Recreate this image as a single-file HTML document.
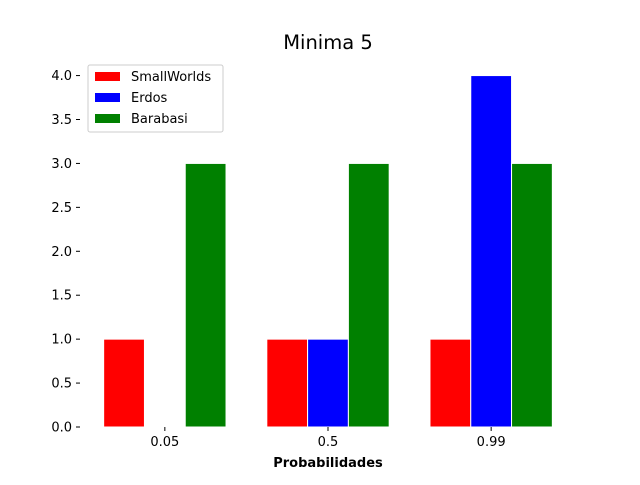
<!DOCTYPE html>
<html><head><meta charset="utf-8"><style>
body{margin:0;background:#fff}
svg text{font-family:"DejaVu Sans","Liberation Sans",sans-serif}
</style></head><body>
<svg id="c" width="640" height="480" xmlns="http://www.w3.org/2000/svg">
<rect width="640" height="480" fill="#fff"/>
<text x="328" y="49" font-size="19.5" text-anchor="middle">Minima 5</text>
<text x="328" y="467" font-size="13" font-weight="bold" text-anchor="middle">Probabilidades</text>
<g id="bars"></g><g id="axes"></g>
<g>
<rect x="88" y="65" width="135" height="67" fill="#fff" stroke="#ccc" rx="2"/>
<g id="leg"></g>
</g>
</svg>
<script>
const categories=["0.05","0.5","0.99"];
const seriesNames=["SmallWorlds","Erdos","Barabasi"];
const smallWorlds=[1,1,1];
const erdos=[0,1,4];
const barabasi=[3,3,3];
const yTicks=[0,0.5,1,1.5,2,2.5,3,3.5,4];
const colors=["#ff0000","#0000ff","#008000"];
const NS="http://www.w3.org/2000/svg";
const L=80,R=576,T=58,B=427,xmin=-0.520,xmax=2.52,ymax=4.2;
const X=v=>L+(v-xmin)/(xmax-xmin)*(R-L);
const Y=v=>B-v/ymax*(B-T);
function mk(t,a,p){const e=document.createElementNS(NS,t);for(const k in a)e.setAttribute(k,a[k]);p.appendChild(e);return e;}
const bars=document.getElementById('bars'),axes=document.getElementById('axes'),leg=document.getElementById('leg');
const series=[smallWorlds,erdos,barabasi];const w=0.25;
series.forEach((s,si)=>{s.forEach((v,i)=>{
 const x0=X(i+(si-1)*w-w/2),x1=X(i+(si-1)*w+w/2);
 const r=mk('rect',{x:x0,y:Y(v),width:x1-x0,height:Y(0)-Y(v),fill:colors[si],stroke:'#fff','stroke-width':1},bars);
 
 
});});
yTicks.forEach(t=>{
 mk('line',{x1:L-4,x2:L,y1:Y(t),y2:Y(t),stroke:'#000'},axes);
 const e=mk('text',{x:L-8,y:Y(t)+4.5,'font-size':13,'text-anchor':'end'},axes);e.textContent=t.toFixed(1);
 
 
});
categories.forEach((c,i)=>{
 mk('line',{x1:X(i),x2:X(i),y1:B,y2:B+4,stroke:'#000'},axes);
 const e=mk('text',{x:X(i),y:B+19,'font-size':13,'text-anchor':'middle'},axes);e.textContent=c;
 
 
});
seriesNames.forEach((n,i)=>{
 const y=76+i*21;
 mk('rect',{x:95,y:y-4,width:25,height:9,fill:colors[i]},leg);
 const e=mk('text',{x:131,y:y+5,'font-size':13},leg);e.textContent=n;
 
 
});
</script>
</body></html>
